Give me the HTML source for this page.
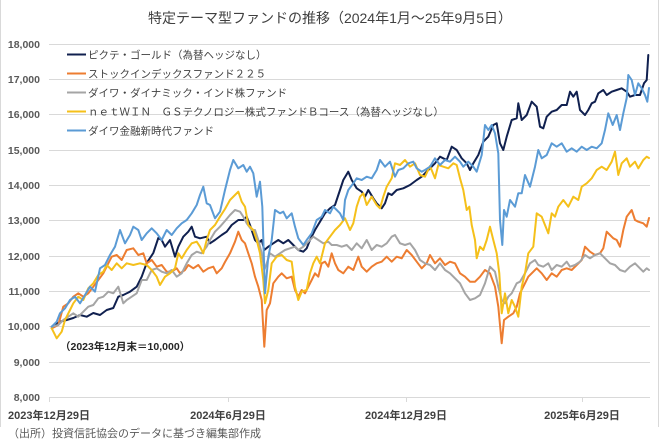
<!DOCTYPE html>
<html>
<head>
<meta charset="utf-8">
<style>
html,body{margin:0;padding:0;background:#fff;}
body{width:660px;height:446px;overflow:hidden;}
svg{display:block;}
text{font-family:"Liberation Sans","Noto Sans CJK JP",sans-serif;}
</style>
</head>
<body>
<svg width="660" height="446" viewBox="0 0 660 446" xmlns="http://www.w3.org/2000/svg">
<rect width="660" height="446" fill="#fff"/>
<line x1="0.5" y1="0" x2="0.5" y2="427" stroke="#d9d9d9" stroke-width="1"/>
<line x1="658.5" y1="0" x2="658.5" y2="427" stroke="#d9d9d9" stroke-width="1"/>

<text x="330" y="23" text-anchor="middle" font-size="14" fill="#404040">特定テーマ型ファンドの推移（2024年1月～25年9月5日）</text>

<g stroke="#d9d9d9" stroke-width="1">
<line x1="49" y1="44.5" x2="650" y2="44.5"/>
<line x1="49" y1="79.5" x2="650" y2="79.5"/>
<line x1="49" y1="114.5" x2="650" y2="114.5"/>
<line x1="49" y1="150.5" x2="650" y2="150.5"/>
<line x1="49" y1="185.5" x2="650" y2="185.5"/>
<line x1="49" y1="220.5" x2="650" y2="220.5"/>
<line x1="49" y1="256.5" x2="650" y2="256.5"/>
<line x1="49" y1="291.5" x2="650" y2="291.5"/>
<line x1="49" y1="326.5" x2="650" y2="326.5"/>
<line x1="49" y1="362.5" x2="650" y2="362.5"/>
<line x1="49" y1="397.5" x2="650" y2="397.5"/>
<line x1="49.5" y1="397" x2="49.5" y2="402"/>
<line x1="228.5" y1="397" x2="228.5" y2="402"/>
<line x1="406.5" y1="397" x2="406.5" y2="402"/>
<line x1="582.5" y1="397" x2="582.5" y2="402"/>
</g>

<g font-size="10.5" font-weight="bold" fill="#595959" text-anchor="end">
<text x="40" y="48">18,000</text>
<text x="40" y="83">17,000</text>
<text x="40" y="118">16,000</text>
<text x="40" y="154">15,000</text>
<text x="40" y="189">14,000</text>
<text x="40" y="224">13,000</text>
<text x="40" y="260">12,000</text>
<text x="40" y="295">11,000</text>
<text x="40" y="330">10,000</text>
<text x="40" y="366">9,000</text>
<text x="40" y="401">8,000</text>
</g>

<g font-size="11" font-weight="bold" fill="#404040" text-anchor="middle">
<text x="49" y="419">2023年12月29日</text>
<text x="228" y="419">2024年6月29日</text>
<text x="406" y="419">2024年12月29日</text>
<text x="582" y="419">2025年6月29日</text>
</g>

<text x="8" y="437" font-size="11" fill="#595959">（出所）投資信託協会のデータに基づき編集部作成</text>

<text x="60" y="350" font-size="10.5" font-weight="bold" fill="#262626">（2023年12月末＝10,000）</text>

<g fill="none" stroke-width="2" stroke-linejoin="round" stroke-linecap="round">
<polyline stroke="#10204f" points="51.7,326.7 60,321.7 66.7,320 73.3,318 80,315 86.7,316.7 93.3,313 100,315 106.7,310 113.3,308 118.3,296.7 123.3,295 130,291.7 136.7,286.7 141.7,276.7 146.7,263 153.3,253 158.3,238 161.7,240 165,246.7 170,240 175,256.7 178.3,246.7 183.3,236.7 188.3,231.7 191.7,226.7 195,236.7 200,238.3 206.7,236.7 210,243.3 215,240 221.7,235 226.7,231.7 231.7,225 238.3,220 243.3,220 246.7,216.7 250,225 255,240 258.3,243.3 261.7,240 264.3,250 268.3,246.7 273.3,243.3 278.3,240 283.3,243.3 288.3,240 293.3,245 298.3,250 303.3,251.7 306.7,248.3 310,240 315,230 320,221.7 325,213.3 330,208.3 335,205 340,190 343.3,180 348.3,171.7 351.7,180 356.7,188.3 361.7,191.7 365,196.7 368.3,190 373.3,198.3 376.7,203.3 381.7,208.3 385,203.3 388.3,193.3 391.7,195 396.7,190 403.3,188.3 410,185 416.7,180 421.7,176.7 428.3,170 435,163.3 440,156.7 446.7,160 451.7,146.7 456.7,150 461.7,158.3 466.7,163.3 470,170 473.3,163.3 478.3,155 483.3,141.7 488.3,136.7 493.3,125 496.7,123.3 500,143.3 503.3,150 506.7,136.7 511.7,120 516.7,118.3 518.3,103.3 521.7,120 526.7,115 531.7,101.7 536.7,106.7 540,126.7 543.3,128.3 546.7,116.7 551.7,111.7 556.7,110 561.7,105 566.7,105 570,91.7 573.3,96.7 576.7,91.7 580,110 585,115 588.3,110 591.7,103.3 595,101.7 598.3,93.3 603.3,90 606.7,95 611.7,91.7 616.7,90 621.7,88.3 626.7,91.7 630,96.7 635,95 640,95 644,83.3 646.7,80 648.3,55"/>
<polyline stroke="#ed7d31" points="51.7,328.3 58.3,325 63.3,306.7 68.3,303.3 73.3,296.7 78.3,293.3 83.3,296.7 88.3,293.3 93.3,286.7 98.3,280 103.3,273.3 108.3,263.3 111.7,256.7 116.7,255 121.7,260 126.7,250 133.3,248.3 138.3,255 143.3,253.3 146.7,263.3 151.7,260 156.7,266.7 161.7,265 166.7,271.7 171.7,271.7 176.7,268.3 180,273.3 185,270 188.3,265 193.3,268.3 198.3,265 203.3,271.7 208.3,268.3 213.3,266.7 216.7,273.3 221.7,268.3 225,262 230,253.3 235,241.7 238.3,231.7 241.7,240 245,243.3 248.3,253.3 251.7,263.3 255,276.7 258.3,286.7 261.7,300 264.3,346.7 266.7,310 270,303.3 273.3,283.3 278.3,276.7 281.7,273.3 286.7,278.3 291.7,276.7 295,290 298.3,296.7 301.7,290 305,293.3 308.3,286.7 311.7,280 315,273.3 318.3,276.7 321.7,263.3 325,261.7 328.3,266.7 331.7,253.3 335,263.3 338.3,270 343.3,273.3 348.3,266.7 353.3,270 358.3,256.7 361.7,266.7 366.7,271.7 371.7,266.7 376.7,263.3 381.7,261.7 386.7,256.7 391.7,261.7 396.7,256.7 401.7,258.3 406.7,250 411.7,255 416.7,261.7 421.7,268.3 426.7,263.3 430,255 435,263.3 440,258.3 445,265 450,261.7 455,263.3 460,273.3 465,276.7 470,281.7 475,281.7 480,276.7 485,270 490,273.3 495,286.7 498.3,306.7 501.7,343.3 504,320 508.3,316.7 513.3,313.3 516.7,306.7 520,293.3 523.3,286.7 528.3,276.7 531.7,273.3 536.7,268.3 541.7,273.3 546.7,280 551.7,273.3 556.7,276.7 561.7,270 566.7,268.3 571.7,270 576.7,265 581.7,260 585,246.7 590,251.7 595,255 600,253.3 603.3,248.3 606.7,231.7 610,235 613.3,238.3 616.7,240 620,246.7 623.3,230 626.7,216.7 631.7,210 635,220 638.3,221.7 643.3,223.3 646.7,226.7 649,218"/>
<polyline stroke="#a5a5a5" points="51.7,326.7 58.3,325 63.3,320 68.3,316.7 73.3,313.3 78.3,316.7 83.3,311.7 88.3,306.7 93.3,305 98.3,298.3 103.3,296.7 108.3,291.7 113.3,293.3 118.3,286.7 123.3,303.3 126.7,300 131.7,296.7 136.7,293.3 141.7,280 146.7,280 151.7,270 156.7,268.3 161.7,271.7 166.7,273.3 171.7,270 176.7,276.7 181.7,273.3 186.7,263.3 191.7,255 196.7,251.7 201.7,253.3 206.7,246.7 210,240 215,231.7 220,226.7 225,221 230,215 235,210 240,211.7 243.3,216.7 246.7,223.3 251.7,230 255,230 258.3,240 261.7,253.3 264.3,270 266.7,263.3 270,253.3 275,256.7 280,253.3 285,250 290,248.3 295,246.7 298.3,250 303.3,246.7 308.3,241.7 313.3,236.7 318.3,240 323.3,243.3 328.3,241.7 331.7,245 336.7,245 341.7,246.7 346.7,245 351.7,250 356.7,243.3 361.7,248.3 366.7,240 371.7,250 376.7,245 381.7,246.7 386.7,243.3 391.7,236.7 395,235 400,243.3 405,245 410,243.3 415,250 420,260 425,263.3 430,265 435,270 440,263.3 445,270 450,273.3 455,278.3 460,283.3 465,293.3 470,300 475,298.3 480,295 485,283.3 490,266.7 495,271.7 498.3,286.7 501.7,300 505,303.3 508.3,296.7 511.7,293.3 516.7,283.3 520,281.7 525,273.3 530,263.3 535,260 538.3,265 543.3,266.7 548.3,263.3 551.7,270 556.7,265 561.7,266.7 566.7,261.7 570,266.7 575,265 580,261.7 585,255 590,258.3 595,255 600,253.3 605,258.3 610,263.3 615,265 620,270 625,271.7 630,266.7 635,263.3 638.3,266.7 643.3,271.7 646.7,268.3 649,270"/>
<polyline stroke="#f5c01a" points="51.7,328.3 56.7,338.3 61.7,331.7 65,320 70,310 73.3,303.3 78.3,296.7 83.3,300 88.3,288.3 93.3,283.3 98.3,275 103.3,271.7 106.7,265 111.7,270 116.7,263.3 121.7,268.3 126.7,263.3 133.3,265 140,263.3 146.7,265 151.7,270 156.7,276.7 160,285 165,276.7 170,273.3 175,268.3 178.3,253.3 181.7,258.3 186.7,250 191.7,243.3 196.7,241.7 200,246.7 203.3,253.3 206.7,240 210,230 215,225 220,216.7 225,209 230,200 235,195 238.3,191.7 241.7,201.7 245,206.7 248.3,225 253.3,230 256.7,240 260,253.3 263.3,280 265,303.3 268.3,290 271.7,263.3 276.7,256.7 281.7,255 286.7,260 291.7,261.7 295,286.7 298.3,300 301.7,291.7 306.7,290 310,273.3 313.3,263.3 316.7,256.7 320,263.3 325,243.3 330,236.7 335,230 340,225 345,218.3 350,230 353.3,223.3 356.7,206.7 360,196.7 363.3,193.3 366.7,205 371.7,196.7 376.7,205 380,208.3 383.3,196.7 386.7,186.7 391.7,178.3 395,163.3 400,165 405,160 410,166.7 415,163.3 420,175 425,176.7 430,166 435,178.3 438.3,165 443.3,166.7 448.3,168.3 453.3,163.3 456.7,165 460,178.3 463.3,190 466.7,210 469.3,206.7 471.7,225 475,240 476.7,258.3 480,246.7 483.3,250 486.7,240 490,226.7 493.3,240 496.7,253.3 499.3,273.3 501.7,313.3 505,293.3 508.3,313.3 511.7,300 515,306.7 518.3,316.7 521.7,286.7 525,273.3 528.3,253.3 533.3,246.7 536.7,213.3 541.7,216.7 545,225 548.3,233.3 551.7,213.3 555,216.7 558.3,206.7 563.3,200 568.3,206.7 573.3,196.7 578.3,200 581.7,186.7 586.7,183.3 591.7,178.3 596.7,170 601.7,166.7 606.7,170 611.7,161.7 615,151.7 618.3,175 621.7,163.3 626.7,158.3 630,166.7 635,161.7 638.3,168.3 643.3,160 646.7,156.7 649,158"/>
<polyline stroke="#5b9bd5" points="51.7,326.7 56.7,321.7 60,313.3 65,308.3 70,300 75,296.7 80,303.3 85,295 90,286.7 95,291.7 100,268.3 105,265 110,255 115,246.7 120,230 125,243.3 130,235 133.3,226.7 138.3,230 141.7,240 146.7,233.3 151.7,228.3 156.7,233.3 161.7,240 166.7,230 171.7,235 176.7,228.3 181.7,223.3 186.7,220 191.7,213.3 196.7,205 200,195 203.3,186.7 206.7,203.3 210,205 215,218.3 220,211.7 225,190 230,170 233.3,160 238.3,168.3 243.3,165 246.7,171.7 250,166.7 253.3,173.3 256.7,196.7 260,181.7 262.3,206.7 265,293.3 268.3,256.7 271.7,240 275,210 280,213.3 283.3,211.7 286.7,218.3 291.7,213.3 295,226.7 298.3,238.3 303.3,245 306.7,240 311.7,233.3 316.7,220 321.7,216.7 325,210 330,213.3 333.3,206.7 336.7,210 340,213.3 343.3,220 345,200 348.3,190 353.3,183.3 356.7,178.3 361.7,180 366.7,176.7 371.7,178.3 376.7,170 380,160 385,166.7 390,161.7 395,176.7 398.3,170 403.3,168.3 408.3,163.3 413.3,161.7 416.7,168.3 421.7,171.7 425,170 430,166.7 435,158.3 440,165 445,160 450,161.7 455,156.7 460,161.7 463.3,166.7 468.3,161.7 473.3,166.7 476.7,171.7 481.7,155 485,125 488.3,130 491.7,125 495,133.3 498.3,153.3 500,220 502.3,245 504,210 506.7,216.7 510,200 515,206.7 518.3,193.3 521.7,193.3 525,175 530,186.7 535,166.7 538.3,150 541.7,158.3 546.7,155 551.7,143.3 556.7,146.7 561.7,143.3 566.7,151.7 571.7,148.3 576.7,151.7 581.7,146.7 586.7,150 591.7,146.7 596.7,148.3 601.7,143.3 605,130 608.3,113.3 612.7,125 616.7,115 620,130 623.3,113.3 626.7,98 628.3,75 631.7,80 635,95 638.3,83.3 641.7,88.3 645,95 647.3,101.7 649,88"/>
</g>

<g stroke-width="2">
<line x1="67" y1="54.5" x2="86" y2="54.5" stroke="#10204f"/>
<line x1="67" y1="73.5" x2="86" y2="73.5" stroke="#ed7d31"/>
<line x1="67" y1="92.5" x2="86" y2="92.5" stroke="#a5a5a5"/>
<line x1="67" y1="111.5" x2="86" y2="111.5" stroke="#f5c01a"/>
<line x1="67" y1="130.5" x2="86" y2="130.5" stroke="#5b9bd5"/>
</g>
<g font-size="10.5" fill="#404040">
<text x="88" y="58.5">ピクテ・ゴールド（為替ヘッジなし）</text>
<text x="88" y="77.5">ストックインデックスファンド２２５</text>
<text x="88" y="96.5">ダイワ・ダイナミック・インド株ファンド</text>
<text x="88" y="115.5">ｎｅｔＷＩＮ　ＧＳテクノロジー株式ファンドＢコース（為替ヘッジなし）</text>
<text x="88" y="134.5">ダイワ金融新時代ファンド</text>
</g>
</svg>
</body>
</html>
